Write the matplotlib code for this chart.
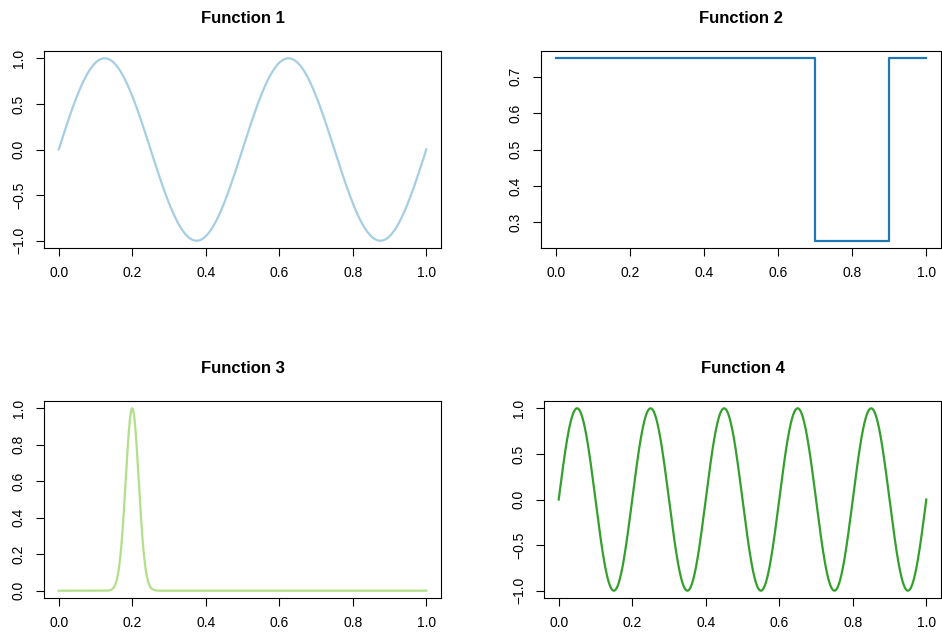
import numpy as np
import matplotlib
matplotlib.use("Agg")
from matplotlib import pyplot as plt

plt.rcParams['font.family'] = ['Liberation Sans', 'DejaVu Sans']

# values
titles = ['Function 1', 'Function 2', 'Function 3', 'Function 4']
colors = ['#A6CEE3', '#1F78B4', '#B2DF8A', '#33A02C']
sine_cycles = [2, 5]          # full periods over [0, 1] for functions 1 and 4
step_edges = [0.0, 0.7, 0.9, 1.0]
step_levels = [0.75, 0.25, 0.75]
peak_center = 0.2
peak_width = 0.025
x_ticks = [0.0, 0.2, 0.4, 0.6, 0.8, 1.0]
y_ticks_sine = [-1.0, -0.5, 0.0, 0.5, 1.0]
y_ticks_step = [0.3, 0.4, 0.5, 0.6, 0.7]
y_ticks_peak = [0.0, 0.2, 0.4, 0.6, 0.8, 1.0]

x = np.linspace(0, 1, 1001)
f1 = np.sin(2*np.pi*sine_cycles[0]*x)
f3 = np.exp(-((x-peak_center)/peak_width)**2)
f4 = np.sin(2*np.pi*sine_cycles[1]*x)
step_x = np.repeat(step_edges, 2)[1:-1]
step_y = np.repeat(step_levels, 2)

W, H = 942, 637
fig = plt.figure(figsize=(W/100, H/100), dpi=100)
# axes boxes in pixels: left, top, right, bottom
boxes = [(44, 51, 441, 248), (541, 51, 941, 248),
         (44, 401, 441, 598), (544, 401, 941, 598)]
axes = []
for (l, t, r, b) in boxes:
    axes.append(fig.add_axes([l/W, 1-b/H, (r-l)/W, (b-t)/H]))

axes[0].plot(x, f1, color=colors[0], lw=1.6)
axes[1].plot(step_x, step_y, color=colors[1], lw=1.6)
axes[2].plot(x, f3, color=colors[2], lw=1.6)
axes[3].plot(x, f4, color=colors[3], lw=1.6)

yticks = [y_ticks_sine, y_ticks_step, y_ticks_peak, y_ticks_sine]
for ax, title, yt in zip(axes, titles, yticks):
    ax.set_title(title, fontsize=12, fontweight='bold', pad=20)
    ax.set_xticks(x_ticks)
    ax.set_xticklabels(['%.1f' % v for v in x_ticks])
    ax.set_yticks(yt)
    ax.set_yticklabels([('%.1f' % v).replace('-', '\u2212') for v in yt],
                       rotation=90, va='center')
    lo, hi = ax.dataLim.y0, ax.dataLim.y1
    pad = 0.04*(hi-lo)
    ax.set_ylim(lo-pad, hi+pad)
    ax.set_xlim(-0.04, 1.04)
    ax.tick_params(direction='out', length=6, width=0.8, labelsize=10, pad=7)
    for s in ax.spines.values():
        s.set_linewidth(0.8)

fig.savefig('out.png', dpi=100)
